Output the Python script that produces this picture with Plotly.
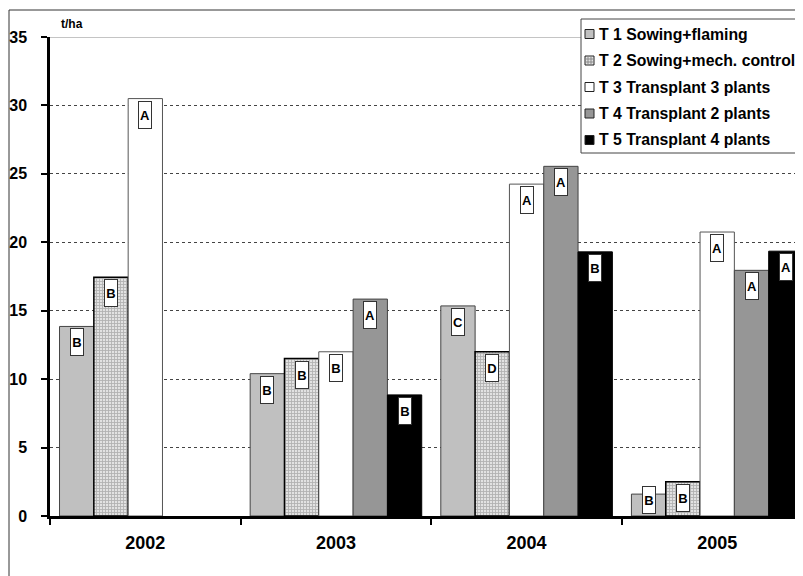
import plotly.graph_objects as go

# ---------------- data ----------------
years = ["2002", "2003", "2004", "2005"]
series_names = [
    "T 1 Sowing+flaming",
    "T 2 Sowing+mech. control",
    "T 3 Transplant 3 plants",
    "T 4 Transplant 2 plants",
    "T 5 Transplant 4 plants",
]
t1 = [13.85, 10.4, 15.35, 1.6]
t2 = [17.45, 11.5, 12.0, 2.5]
t3 = [30.5, 12.0, 24.25, 20.75]
t4 = [None, 15.85, 25.55, 17.95]
t5 = [None, 8.85, 19.3, 19.35]

l1 = ["B", "B", "C", "B"]
l2 = ["B", "B", "D", "B"]
l3 = ["A", "B", "A", "A"]
l4 = [None, "A", "A", "A"]
l5 = [None, "B", "B", "A"]

y_ticks = [0, 5, 10, 15, 20, 25, 30, 35]
y_title = "t/ha"

values = [t1, t2, t3, t4, t5]
letters = [l1, l2, l3, l4, l5]

# ---------------- styles ----------------
FONT = "Liberation Sans, Arial, sans-serif"
OFF = 8  # page body margin
W, H = 803 - OFF, 576 - OFF
# plot area in screen px
L, R_EDGE, T, B = 50, 803, 37, 516
fills = ["#c0c0c0", "#e0e0e0", "#ffffff", "#969696", "#000000"]
lines = ["#444444", "#000000", "#555555", "#444444", "#000000"]
BARGAP = 0.1
NS = 5
bw = (1 - BARGAP) / NS


def px_x(p):
    return (p - L) / (R_EDGE - L)


def px_y(p):
    return (B - p) / (B - T)


fig = go.Figure()
for j, (name, vals) in enumerate(zip(series_names, values)):
    marker = dict(color=fills[j], line=dict(color=lines[j], width=1.5 if j == 1 else 1))
    if j == 1:
        marker["pattern"] = dict(shape="+", size=3, solidity=0.5,
                                 fgcolor="#828282", bgcolor="#e2e2e2")
    fig.add_trace(go.Bar(x=years, y=vals, name=name, marker=marker,
                         showlegend=False))

# letter boxes on bars
MIN_Y = 2.35
for j, (vals, labs) in enumerate(zip(values, letters)):
    for i, (v, lab) in enumerate(zip(vals, labs)):
        if v is None or lab is None:
            continue
        fig.add_annotation(
            x=i + (j - (NS - 1) / 2) * bw, y=max(v, MIN_Y), xref="x", yref="y",
            text=lab, showarrow=False, yanchor="top", yshift=-2,
            width=10, height=24, borderpad=1, borderwidth=1,
            bordercolor="#333333", bgcolor="white",
            font=dict(family=FONT, size=13, color="#000000", weight="bold"),
        )

shapes = []
# outer frame
shapes.append(dict(type="rect", xref="paper", yref="paper",
                   x0=px_x(9), x1=px_x(900), y0=px_y(700), y1=px_y(10),
                   line=dict(color="#333333", width=1), fillcolor="rgba(0,0,0,0)",
                   layer="below"))
# top border of plot area (solid grey at 35)
shapes.append(dict(type="line", xref="paper", yref="y", x0=0, x1=1,
                   y0=35, y1=35, line=dict(color="#8a8a8a", width=1)))

# manual legend
shapes.append(dict(type="rect", xref="paper", yref="paper",
                   x0=px_x(581), x1=px_x(840), y0=px_y(153), y1=px_y(19),
                   line=dict(color="#444444", width=1), fillcolor="white"))
rows = [34, 60.5, 87, 113.5, 140]
for j, (name, ry) in enumerate(zip(series_names, rows)):
    shapes.append(dict(type="rect", xref="paper", yref="paper",
                       x0=px_x(585), x1=px_x(594), y0=px_y(ry + 4.5), y1=px_y(ry - 4.5),
                       line=dict(color="#222222", width=1),
                       fillcolor=("#e4e4e4" if j == 1 else fills[j])))
    if j == 1:
        for k in (588, 591):
            shapes.append(dict(type="line", xref="paper", yref="paper",
                               x0=px_x(k), x1=px_x(k), y0=px_y(ry + 4), y1=px_y(ry - 4),
                               line=dict(color="#8a8a8a", width=1)))
            kk = ry - 4.5 + (k - 585)
            shapes.append(dict(type="line", xref="paper", yref="paper",
                               x0=px_x(585.5), x1=px_x(593.5), y0=px_y(kk), y1=px_y(kk),
                               line=dict(color="#8a8a8a", width=1)))
    fig.add_annotation(x=px_x(597), y=px_y(ry), xref="paper", yref="paper",
                       text=name, showarrow=False, xanchor="left", yanchor="middle",
                       font=dict(family=FONT, size=15.8, color="black", weight="bold"))

# axis title
fig.add_annotation(x=px_x(59), y=px_y(24), xref="paper", yref="paper",
                   text=y_title, showarrow=False, xanchor="left", yanchor="middle",
                   font=dict(family=FONT, size=12, color="black", weight="bold"))

fig.update_layout(
    width=W, height=H,
    margin=dict(l=L - OFF, r=W - (R_EDGE - OFF), t=T - OFF, b=H - (B - OFF),
                autoexpand=False),
    paper_bgcolor="white", plot_bgcolor="white",
    barmode="group", bargap=BARGAP, bargroupgap=0,
    shapes=shapes,
    showlegend=False,
)
fig.update_xaxes(
    type="category", range=[-0.5, 3.45],
    showline=True, linecolor="black", linewidth=2.5,
    ticks="outside", tickson="boundaries", ticklen=6, tickwidth=2, tickcolor="black",
    showgrid=False, zeroline=False, ticklabelstandoff=9,
    tickfont=dict(family=FONT, size=18, color="black", weight="bold"),
)
fig.update_yaxes(
    range=[0, 35], tickvals=y_ticks,
    showline=True, linecolor="black", linewidth=2.5,
    ticks="outside", ticklen=6, tickwidth=2, tickcolor="black",
    showgrid=True, gridcolor="#444444", gridwidth=1, griddash="3px,3px",
    zeroline=False, ticklabelstandoff=11,
    tickfont=dict(family=FONT, size=16, color="black", weight="bold"),
)

fig.write_html("out.html")
